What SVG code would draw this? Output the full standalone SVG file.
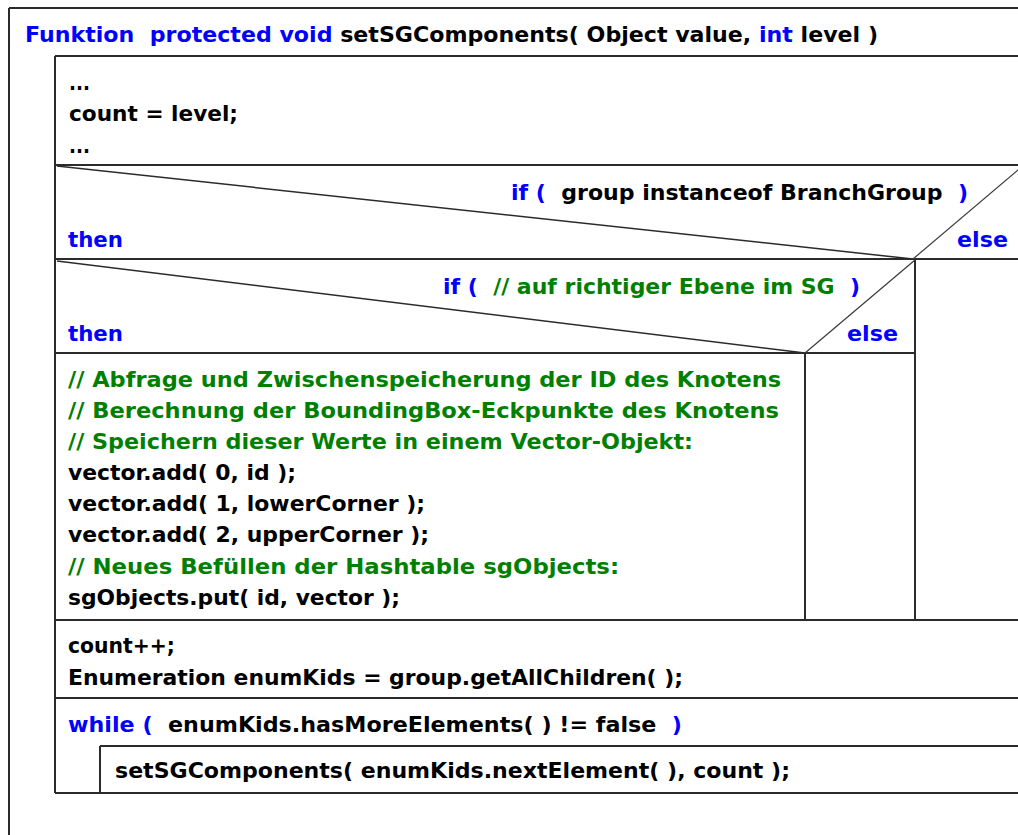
<svg xmlns="http://www.w3.org/2000/svg" width="1018" height="835" viewBox="0 0 1018 835">
  <style>
    .ln { stroke: #2b2b2b; stroke-width: 2; fill: none; }
    .dg { stroke: #2b2b2b; stroke-width: 1.5; fill: none; }
    .eg { stroke: #3a3a3a; stroke-width: 1.2; fill: none; }
    text { font-family: "DejaVu Sans", "Liberation Sans", sans-serif; font-weight: bold; font-size: 22px; fill: #000; white-space: pre; }
    .kw { fill: #0000ff; }
    .cm { fill: #008000; }
  </style>
  <rect width="1018" height="835" fill="#fff"/>

  <!-- function frame with header -->
  <g id="function">
    <line class="ln" x1="9" y1="8" x2="1018" y2="8"/>
    <line class="ln" x1="9" y1="8" x2="9" y2="835"/>
    <text x="25" y="42" textLength="853" lengthAdjust="spacingAndGlyphs"><tspan class="kw">Funktion  protected void </tspan>setSGComponents( Object value, <tspan class="kw">int</tspan> level )</text>
  </g>

  <!-- statement block: count = level -->
  <g id="init">
    <text x="69" y="90" textLength="21" lengthAdjust="spacingAndGlyphs">...</text>
    <text x="69" y="121" textLength="169" lengthAdjust="spacingAndGlyphs">count = level;</text>
    <text x="69" y="153" textLength="21" lengthAdjust="spacingAndGlyphs">...</text>
  </g>

  <!-- outer if -->
  <g id="if-branchgroup">
    <text x="511" y="200" textLength="457" lengthAdjust="spacingAndGlyphs"><tspan class="kw">if ( </tspan> group instanceof BranchGroup  <tspan class="kw">)</tspan></text>
    <text class="kw" x="68" y="247" textLength="55" lengthAdjust="spacingAndGlyphs">then</text>
    <text class="kw" x="957" y="247" textLength="51" lengthAdjust="spacingAndGlyphs">else</text>
  </g>

  <!-- inner if -->
  <g id="if-level">
    <text x="443" y="294" textLength="417" lengthAdjust="spacingAndGlyphs"><tspan class="kw">if ( </tspan> <tspan class="cm">// auf richtiger Ebene im SG</tspan>  <tspan class="kw">)</tspan></text>
    <text class="kw" x="68" y="341" textLength="55" lengthAdjust="spacingAndGlyphs">then</text>
    <text class="kw" x="847" y="341" textLength="51" lengthAdjust="spacingAndGlyphs">else</text>
  </g>

  <!-- then-branch body -->
  <g id="store-node">
    <text class="cm" x="68" y="387" textLength="713" lengthAdjust="spacingAndGlyphs">// Abfrage und Zwischenspeicherung der ID des Knotens</text>
    <text class="cm" x="68" y="418" textLength="711" lengthAdjust="spacingAndGlyphs">// Berechnung der BoundingBox-Eckpunkte des Knotens</text>
    <text class="cm" x="68" y="449" textLength="625" lengthAdjust="spacingAndGlyphs">// Speichern dieser Werte in einem Vector-Objekt:</text>
    <text x="68" y="480" textLength="228" lengthAdjust="spacingAndGlyphs">vector.add( 0, id );</text>
    <text x="68" y="511" textLength="357" lengthAdjust="spacingAndGlyphs">vector.add( 1, lowerCorner );</text>
    <text x="68" y="542" textLength="361" lengthAdjust="spacingAndGlyphs">vector.add( 2, upperCorner );</text>
    <text class="cm" x="68" y="574" textLength="551" lengthAdjust="spacingAndGlyphs">// Neues Befüllen der Hashtable sgObjects:</text>
    <text x="68" y="605" textLength="332" lengthAdjust="spacingAndGlyphs">sgObjects.put( id, vector );</text>
  </g>

  <!-- counter and enumeration -->
  <g id="enumerate">
    <text x="68" y="653" textLength="107" lengthAdjust="spacingAndGlyphs">count++;</text>
    <text x="68" y="685" textLength="615" lengthAdjust="spacingAndGlyphs">Enumeration enumKids = group.getAllChildren( );</text>
  </g>

  <!-- while loop -->
  <g id="while-loop">
    <text x="68" y="732" textLength="614" lengthAdjust="spacingAndGlyphs"><tspan class="kw">while ( </tspan> enumKids.hasMoreElements( ) != false  <tspan class="kw">)</tspan></text>
  </g>
  <g id="recurse">
    <text x="115" y="778" textLength="675" lengthAdjust="spacingAndGlyphs">setSGComponents( enumKids.nextElement( ), count );</text>
  </g>

  <!-- structogram lines -->
  <g id="connectors">
    <line class="ln" x1="55" y1="56" x2="1018" y2="56"/>
    <line class="ln" x1="55" y1="56" x2="55" y2="793"/>
    <line class="ln" x1="55" y1="165" x2="1018" y2="165"/>
    <line class="ln" x1="55" y1="259" x2="1018" y2="259"/>
    <line class="ln" x1="55" y1="353" x2="915" y2="353"/>
    <line class="ln" x1="915" y1="259" x2="915" y2="620"/>
    <line class="ln" x1="805" y1="353" x2="805" y2="620"/>
    <line class="ln" x1="55" y1="620" x2="1018" y2="620"/>
    <line class="ln" x1="55" y1="698" x2="1018" y2="698"/>
    <line class="ln" x1="100" y1="746" x2="1018" y2="746"/>
    <line class="ln" x1="100" y1="746" x2="100" y2="793"/>
    <line class="ln" x1="55" y1="793" x2="1018" y2="793"/>
    <line class="dg" x1="57" y1="166" x2="913" y2="259"/>
    <line class="eg" x1="913" y1="259" x2="1024" y2="165"/>
    <line class="dg" x1="57" y1="261" x2="805" y2="353"/>
    <line class="eg" x1="805" y1="353" x2="915" y2="260"/>
  </g>
</svg>
